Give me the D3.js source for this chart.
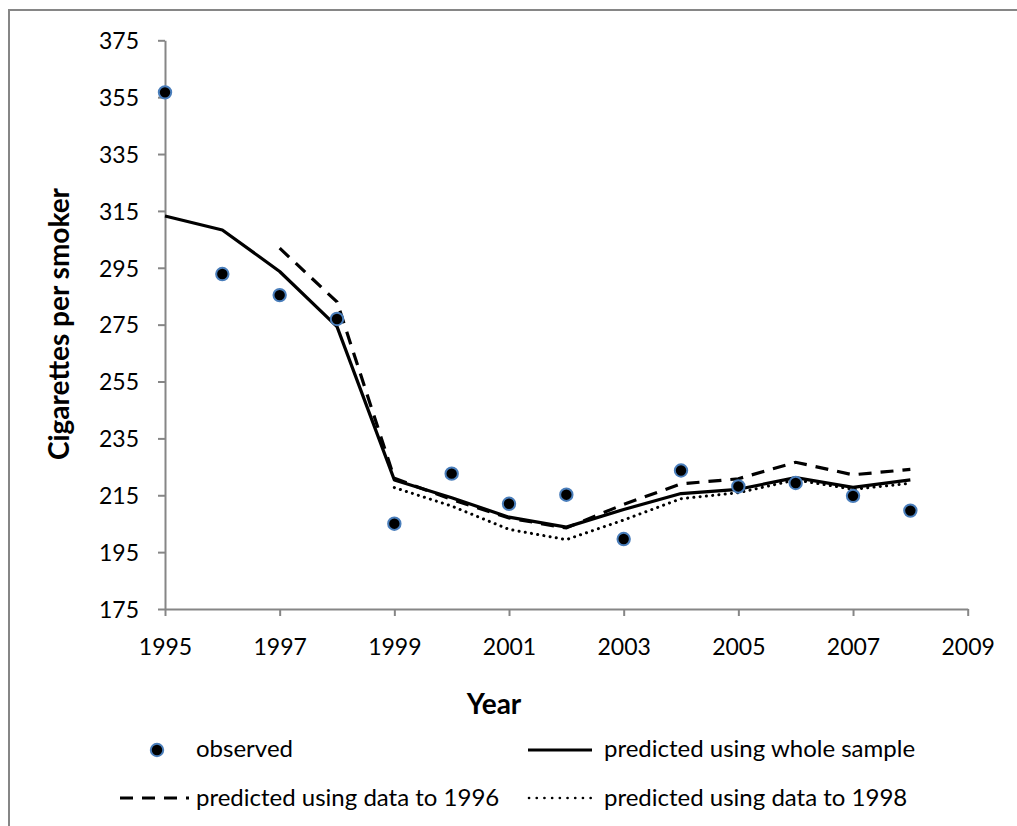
<!DOCTYPE html>
<html>
<head>
<meta charset="utf-8">
<script src="https://cdn.jsdelivr.net/npm/d3@7"></script>
<style>
  html, body { margin: 0; padding: 0; background: #fff; }
  svg { display: block; }
  text { font-family: Lato, "Open Sans", sans-serif; fill: #000; }
</style>
</head>
<body>
<svg id="chart" width="1017" height="826"></svg>
<script>
// Years on the horizontal axis
const years = [1995, 1996, 1997, 1998, 1999, 2000, 2001, 2002, 2003, 2004, 2005, 2006, 2007, 2008];

// Observed cigarettes per smoker
const observed = [356.7, 292.8, 285.4, 277.0, 205.0, 222.6, 212.0, 215.2, 199.6, 223.7, 218.1, 219.3, 214.8, 209.6];

// Predicted using the whole sample
const predWhole = [313.2, 308.3, 293.7, 274.3, 220.4, 214.1, 207.3, 203.8, 210.0, 215.6, 217.1, 221.2, 217.8, 220.4];

// Predicted using data to 1996 (starts 1997)
const predTo1996Years = [1997, 1998, 1999, 2000, 2001, 2002, 2003, 2004, 2005, 2006, 2007, 2008];
const predTo1996 = [301.9, 283.0, 221.0, 213.5, 207.0, 203.5, 211.8, 219.0, 220.8, 226.6, 222.2, 224.1];

// Predicted using data to 1998 (starts 1999)
const predTo1998Years = [1999, 2000, 2001, 2002, 2003, 2004, 2005, 2006, 2007, 2008];
const predTo1998 = [217.7, 211.2, 203.0, 199.4, 206.3, 213.8, 215.9, 220.4, 217.1, 219.2];

// Axis ticks
const xTicks = [1995, 1997, 1999, 2001, 2003, 2005, 2007, 2009];
const yTicks = [175, 195, 215, 235, 255, 275, 295, 315, 335, 355, 375];

const svg = d3.select("#chart");
const axisColor = "#868686";

// Outer frame (left and top edges)
svg.append("path")
  .attr("d", "M9,826 V10 H1017")
  .attr("fill", "none")
  .attr("stroke", axisColor)
  .attr("stroke-width", 2);

const x = d3.scaleLinear().domain([1995, 2009]).range([165, 967.7]);
const y = d3.scaleLinear().domain([175, 375]).range([609, 40.3]);

// Y axis
const yAxis = svg.append("g")
  .attr("transform", `translate(${x(1995)},0)`)
  .call(d3.axisLeft(y).tickValues(yTicks).tickSize(7).tickPadding(19).tickSizeOuter(0));
yAxis.select(".domain").attr("stroke", axisColor).attr("stroke-width", 2);
yAxis.selectAll(".tick line").attr("stroke", axisColor).attr("stroke-width", 2);
yAxis.selectAll(".tick text")
  .style("font-size", "23px")
  .attr("dy", "0.36em");

// X axis
const xAxis = svg.append("g")
  .attr("transform", `translate(0,${y(175)})`)
  .call(d3.axisBottom(x).tickValues(xTicks).tickFormat(d3.format("d")).tickSize(7).tickPadding(23).tickSizeOuter(0));
xAxis.select(".domain").attr("stroke", axisColor).attr("stroke-width", 2);
xAxis.selectAll(".tick line").attr("stroke", axisColor).attr("stroke-width", 2);
xAxis.selectAll(".tick text")
  .style("font-size", "23px");

// Axis titles
svg.append("text")
  .attr("transform", `translate(${69},${324}) rotate(-90)`)
  .attr("text-anchor", "middle")
  .style("font-size", "28px")
  .style("font-weight", "bold")
  .text("Cigarettes per smoker");

svg.append("text")
  .attr("x", 494)
  .attr("y", 714)
  .attr("text-anchor", "middle")
  .style("font-size", "28px")
  .style("font-weight", "bold")
  .text("Year");

// Lines
const line = d3.line().x(d => x(d[0])).y(d => y(d[1]));

svg.append("path")
  .datum(predTo1998Years.map((yr, i) => [yr, predTo1998[i]]))
  .attr("d", line)
  .attr("fill", "none")
  .attr("stroke", "#000")
  .attr("stroke-width", 3)
  .attr("stroke-linecap", "round")
  .attr("stroke-dasharray", "0.1 6.2");

svg.append("path")
  .datum(predTo1996Years.map((yr, i) => [yr, predTo1996[i]]))
  .attr("d", line)
  .attr("fill", "none")
  .attr("stroke", "#000")
  .attr("stroke-width", 3.2)
  .attr("stroke-dasharray", "13 9");

svg.append("path")
  .datum(years.map((yr, i) => [yr, predWhole[i]]))
  .attr("d", line)
  .attr("fill", "none")
  .attr("stroke", "#000")
  .attr("stroke-width", 3.2)
  .attr("stroke-linejoin", "round");

// Observed markers
svg.append("g")
  .selectAll("circle")
  .data(years.map((yr, i) => [yr, observed[i]]))
  .join("circle")
  .attr("cx", d => x(d[0]))
  .attr("cy", d => y(d[1]))
  .attr("r", 6.2)
  .attr("fill", "#000")
  .attr("stroke", "#4a7ebb")
  .attr("stroke-width", 2);

// Legend
const legend = svg.append("g");
const legendFont = "24px";

legend.append("circle")
  .attr("cx", 157).attr("cy", 750).attr("r", 6.2)
  .attr("fill", "#000").attr("stroke", "#4a7ebb").attr("stroke-width", 2);
legend.append("text")
  .attr("x", 196).attr("y", 757)
  .style("font-size", legendFont)
  .text("observed");

legend.append("line")
  .attr("x1", 528).attr("x2", 592).attr("y1", 750).attr("y2", 750)
  .attr("stroke", "#000").attr("stroke-width", 3.2);
legend.append("text")
  .attr("x", 604).attr("y", 757)
  .style("font-size", legendFont)
  .text("predicted using whole sample");

legend.append("line")
  .attr("x1", 120).attr("x2", 189).attr("y1", 798).attr("y2", 798)
  .attr("stroke", "#000").attr("stroke-width", 3.2)
  .attr("stroke-dasharray", "13 9");
legend.append("text")
  .attr("x", 196).attr("y", 806)
  .style("font-size", legendFont)
  .text("predicted using data to 1996");

legend.append("line")
  .attr("x1", 529).attr("x2", 597).attr("y1", 798).attr("y2", 798)
  .attr("stroke", "#000").attr("stroke-width", 2.6)
  .attr("stroke-linecap", "round")
  .attr("stroke-dasharray", "0.1 7.6");
legend.append("text")
  .attr("x", 604).attr("y", 806)
  .style("font-size", legendFont)
  .text("predicted using data to 1998");
</script>
</body>
</html>
